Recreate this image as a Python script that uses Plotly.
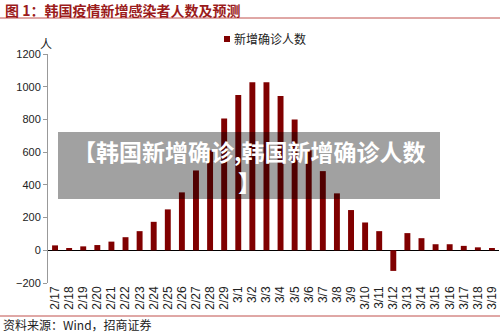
import plotly.graph_objects as go

dates = ["2/17", "2/18", "2/19", "2/20", "2/21", "2/22", "2/23", "2/24", "2/25", "2/26",
         "2/27", "2/28", "2/29", "3/1", "3/2", "3/3", "3/4", "3/5", "3/6", "3/7",
         "3/8", "3/9", "3/10", "3/11", "3/12", "3/13", "3/14", "3/15", "3/16", "3/17",
         "3/18", "3/19"]
new_cases = [30, 14, 24, 32, 53, 80, 117, 174, 250, 354,
             488, 611, 806, 950, 1028, 1028, 943, 800, 611, 484,
             348, 246, 170, 117, -126, 105, 74, 37, 37, 27,
             18, 14]
y_ticks = [-200, 0, 200, 400, 600, 800, 1000, 1200]

W, H = 500, 332
L, R, T, B = 48, 1, 54, 49
PW, PH = W - L - R, H - T - B


def px(x):
    return (x - L) / PW


def py(y):
    return (H - B - y) / PH


BAR = "#800000"
CJK = "Noto Sans CJK SC"

fig = go.Figure()
fig.add_trace(go.Bar(x=dates, y=new_cases, marker_color=BAR, marker_line_width=0,
                     name="新增确诊人数", showlegend=False))

fig.update_layout(
    width=W, height=H,
    margin=dict(l=L, r=R, t=T, b=B, pad=0),
    paper_bgcolor="white", plot_bgcolor="white",
    bargap=0.58,
    font=dict(family="Liberation Sans, Arial", size=11, color="#222"),
    xaxis=dict(type="category", tickangle=-90, showgrid=False, showline=False,
               ticks="", tickfont=dict(size=12, color="#222"), zeroline=False,
               range=[-0.5, len(dates) - 0.5]),
    yaxis=dict(range=[-200, 1200], tickvals=y_ticks, showgrid=False,
               showline=True, linecolor="#999", linewidth=1,
               ticks="outside", ticklen=4, tickcolor="#999",
               zeroline=True, zerolinecolor="#000", zerolinewidth=1,
               tickfont=dict(size=11, color="#222")),
)

shapes = [
    dict(type="line", xref="paper", yref="paper", x0=px(0), x1=px(W), y0=py(18), y1=py(18),
         line=dict(color="#C0504D", width=1)),
    dict(type="line", xref="paper", yref="paper", x0=px(0), x1=px(W), y0=py(316), y1=py(316),
         line=dict(color="#C0504D", width=1)),
    dict(type="rect", xref="paper", yref="paper", x0=px(58), x1=px(440), y0=py(199), y1=py(132),
         fillcolor="rgba(0,0,0,0.37)", line=dict(width=0), layer="above"),
    dict(type="rect", xref="paper", yref="paper", x0=px(224), x1=px(230), y0=py(42), y1=py(36),
         fillcolor=BAR, line=dict(width=0)),
]
fig.update_layout(shapes=shapes)

annotations = [
    dict(text="<b>图 1：韩国疫情新增感染者人数及预测</b>", xref="paper", yref="paper",
         x=px(3), y=py(10), xanchor="left", yanchor="middle", showarrow=False,
         font=dict(family=CJK, size=14, color="#9B1B1B")),
    dict(text="人", xref="paper", yref="paper", x=px(46), y=py(44), xanchor="center",
         yanchor="middle", showarrow=False, font=dict(family=CJK, size=12, color="#222")),
    dict(text="新增确诊人数", xref="paper", yref="paper", x=px(232), y=py(39),
         xanchor="left", yanchor="middle", showarrow=False,
         font=dict(family=CJK, size=12, color="#222")),
    dict(text="资料来源：Wind，招商证券", xref="paper", yref="paper", x=px(1), y=py(324),
         xanchor="left", yanchor="middle", showarrow=False,
         font=dict(family=CJK, size=12, color="#222")),
    dict(text="<b>【韩国新增确诊,韩国新增确诊人数</b>", xref="paper", yref="paper",
         x=px(249), y=py(151), xanchor="center", yanchor="middle", showarrow=False,
         font=dict(family=CJK, size=23, color="white")),
    dict(text="<b>】</b>", xref="paper", yref="paper",
         x=px(249), y=py(182), xanchor="center", yanchor="middle", showarrow=False,
         font=dict(family=CJK, size=23, color="white")),
]
fig.update_layout(annotations=annotations)

fig.write_html("out.html")
